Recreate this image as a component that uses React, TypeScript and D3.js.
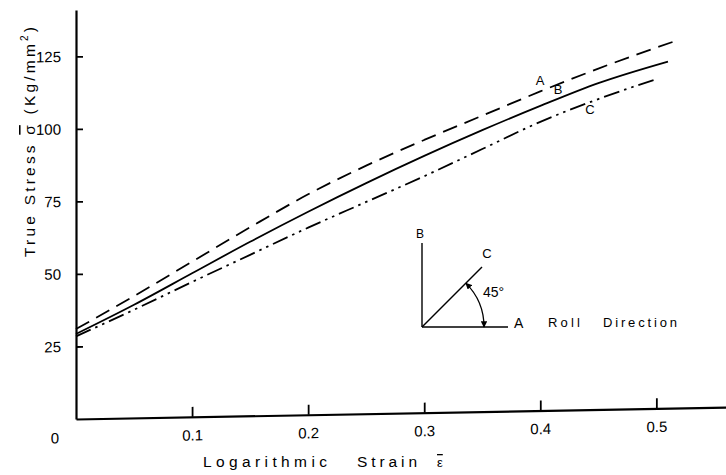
import React, { useRef, useEffect } from "react";
import * as d3 from "d3";

// true stress vs log strain, three directions
const strainA = [0, 0.05, 0.1, 0.15, 0.2, 0.25, 0.3, 0.35, 0.4, 0.45, 0.52];
const stressA = [31, 42, 53.5, 65, 76, 85.5, 94, 102, 110, 117.5, 127];
const strainB = [0, 0.05, 0.1, 0.15, 0.2, 0.25, 0.3, 0.35, 0.4, 0.45, 0.51];
const stressB = [29.3, 39, 49.5, 60, 70, 79.5, 88.5, 97, 105, 112.5, 119.5];
const strainC = [0, 0.05, 0.1, 0.15, 0.2, 0.25, 0.3, 0.35, 0.4, 0.45, 0.5];
const stressC = [28.5, 37.3, 46.5, 55.5, 64.5, 73, 81.5, 90.5, 99.5, 107, 113.5];

const xTicks = [0.1, 0.2, 0.3, 0.4, 0.5];
const yTicks = [25, 50, 75, 100, 125];

const FONT = "'Liberation Sans', Arial, Helvetica, sans-serif";

export default function App() {
  const ref = useRef<SVGSVGElement>(null);

  useEffect(() => {
    const width = 726, height = 475;
    const svg = d3.select(ref.current).attr("width", width).attr("height", height);
    svg.selectAll("*").remove();

    const x = d3.scaleLinear().domain([0, 0.56]).range([76, 726]);
    const y = d3.scaleLinear().domain([0, 141]).range([419, 10]);

    // the scan is slightly sheared: x axis climbs ~12px across the page
    const x0 = x(0);
    const plot = svg.append("g")
      .attr("transform", `translate(${x0},0) skewY(-1.05) translate(${-x0},0)`);

    const xAxis = plot.append("g")
      .attr("transform", `translate(0,${y(0)})`)
      .call(d3.axisBottom(x).tickValues(xTicks).tickFormat(d3.format(".1f"))
        .tickSizeInner(-10).tickSizeOuter(0).tickPadding(13));

    const yAxis = plot.append("g")
      .attr("transform", `translate(${x0},0)`)
      .call(d3.axisLeft(y).tickValues(yTicks).tickSizeInner(-7).tickSizeOuter(0).tickPadding(15));

    [xAxis, yAxis].forEach(g => {
      g.attr("font-family", FONT).attr("font-size", 15);
      g.select(".domain").attr("stroke", "#000").attr("stroke-width", 2.2);
      g.selectAll(".tick line").attr("stroke", "#000").attr("stroke-width", 1.8);
      g.selectAll(".tick text").attr("fill", "#000");
    });

    plot.append("text")
      .attr("x", x0 - 21).attr("y", 443)
      .attr("text-anchor", "middle")
      .attr("font-family", FONT).attr("font-size", 15)
      .text("0");

    const line = d3.line<[number, number]>()
      .x(d => x(d[0]))
      .y(d => y(d[1]))
      .curve(d3.curveMonotoneX);

    const series = [
      { xs: strainA, ys: stressA, dash: "15,8" },
      { xs: strainB, ys: stressB, dash: null },
      { xs: strainC, ys: stressC, dash: "16,5,2.5,5,2.5,5" },
    ];

    series.forEach(s => {
      const pts = s.xs.map((v, i) => [v, s.ys[i]] as [number, number]);
      plot.append("path")
        .attr("d", line(pts))
        .attr("fill", "none")
        .attr("stroke", "#000")
        .attr("stroke-width", 1.8)
        .attr("stroke-dasharray", s.dash);
    });

    // curve labels
    const curveLabels = [
      { t: "A", x: 540, y: 85 },
      { t: "B", x: 558, y: 94 },
      { t: "C", x: 590, y: 114 },
    ];
    svg.selectAll(".clab").data(curveLabels).enter().append("text")
      .attr("x", d => d.x).attr("y", d => d.y)
      .attr("text-anchor", "middle")
      .attr("font-family", FONT).attr("font-size", 13)
      .text(d => d.t);

    // axis titles
    const yt = svg.append("text")
      .attr("transform", "translate(29,142) rotate(-90)")
      .attr("text-anchor", "middle")
      .attr("dominant-baseline", "central")
      .attr("font-family", FONT).attr("font-size", 15.5)
      .attr("textLength", 230).attr("lengthAdjust", "spacing");
    yt.append("tspan").text("True  Stress  ");
    yt.append("tspan").style("text-decoration", "overline").text("σ");
    yt.append("tspan").text(" (Kg/mm");
    yt.append("tspan").attr("dy", -5).attr("font-size", 10).text("2");
    yt.append("tspan").attr("dy", 5).text(")");

    const xt = [
      { t: "Logarithmic", x: 203, w: 124 },
      { t: "Strain", x: 357, w: 60 },
    ];
    svg.selectAll(".xt").data(xt).enter().append("text")
      .attr("x", d => d.x).attr("y", 467)
      .attr("font-family", FONT).attr("font-size", 15.5)
      .attr("textLength", d => d.w).attr("lengthAdjust", "spacing")
      .text(d => d.t);
    svg.append("text")
      .attr("x", 437).attr("y", 467)
      .attr("font-family", FONT).attr("font-size", 13)
      .style("text-decoration", "overline")
      .text("ε");

    // inset: orientation sketch
    const ox = 422, oy = 327, r = 62;
    const inset = svg.append("g").attr("stroke", "#000").attr("fill", "none");
    const defs = svg.append("defs");
    defs.append("marker")
      .attr("id", "ah").attr("viewBox", "0 0 10 10")
      .attr("refX", 9).attr("refY", 5)
      .attr("markerWidth", 5).attr("markerHeight", 5)
      .attr("orient", "auto-start-reverse")
      .append("path").attr("d", "M0,0 L10,5 L0,10 Z").attr("fill", "#000");

    inset.append("line").attr("x1", ox).attr("y1", oy).attr("x2", ox + 86).attr("y2", oy).attr("stroke-width", 1.6);
    inset.append("line").attr("x1", ox).attr("y1", oy).attr("x2", ox).attr("y2", oy - 84).attr("stroke-width", 1.4);
    inset.append("line").attr("x1", ox).attr("y1", oy).attr("x2", ox + 60).attr("y2", oy - 60).attr("stroke-width", 1.4);

    const p = d3.path();
    p.moveTo(ox + r * Math.cos(-Math.PI / 4), oy + r * Math.sin(-Math.PI / 4));
    p.arc(ox, oy, r, -Math.PI / 4, 0);
    inset.append("path").attr("d", p.toString()).attr("stroke-width", 1.3)
      .attr("marker-start", "url(#ah)").attr("marker-end", "url(#ah)");

    const insetText = [
      { t: "B", x: 420, y: 238, a: "middle", fs: 12, w: 0 },
      { t: "C", x: 487, y: 258, a: "middle", fs: 13, w: 0 },
      { t: "45°", x: 483, y: 297, a: "start", fs: 14, w: 0 },
      { t: "A", x: 514, y: 328, a: "start", fs: 14, w: 0 },
      { t: "Roll", x: 548, y: 327, a: "start", fs: 13, w: 32 },
      { t: "Direction", x: 603, y: 327, a: "start", fs: 13, w: 74 },
    ];
    insetText.forEach(d => {
      const tx = svg.append("text")
        .attr("x", d.x).attr("y", d.y)
        .attr("text-anchor", d.a)
        .attr("font-family", FONT).attr("font-size", d.fs)
        .text(d.t);
      if (d.w) tx.attr("textLength", d.w).attr("lengthAdjust", "spacing");
    });
  }, []);

  return (
    <svg ref={ref} style={{ position: "absolute", left: 0, top: 0, background: "#fff" }}></svg>
  );
}
